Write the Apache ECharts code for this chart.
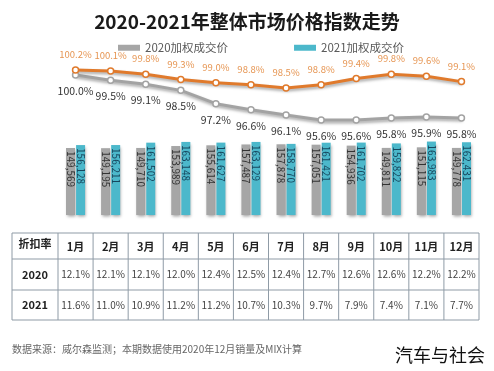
<!DOCTYPE html>
<html><head><meta charset="utf-8">
<script src="https://cdn.jsdelivr.net/npm/echarts@6/dist/echarts.min.js"></script>
<style>html,body{margin:0;padding:0;background:#fff}#c{width:494px;height:371px}</style>
</head><body><div id="c"></div>
<script>
// ---- data ----
var months = ['1月','2月','3月','4月','5月','6月','7月','8月','9月','10月','11月','12月'];
var price2020 = [149569,149195,149710,153989,155614,157487,157878,157051,154936,149811,151115,149778];
var price2021 = [156128,156211,161502,163148,161627,163129,158770,161421,161702,159822,163983,162431];
var index2020 = [100.0,99.5,99.1,98.5,97.2,96.6,96.1,95.6,95.6,95.8,95.9,95.8];
var index2021 = [100.2,100.1,99.8,99.3,99.0,98.8,98.5,98.8,99.4,99.8,99.6,99.1];
var discount2020 = ['12.1%','12.1%','12.1%','12.0%','12.4%','12.5%','12.4%','12.7%','12.6%','12.6%','12.2%','12.2%'];
var discount2021 = ['11.6%','11.0%','10.9%','11.2%','11.2%','10.7%','10.3%','9.7%','7.9%','7.4%','7.1%','7.7%'];
var rowHeaders = ['折扣率','2020','2021'];
var seriesNames = ['2020加权成交价','2021加权成交价'];

var FONT = '"Noto Sans CJK SC", "Noto Sans", sans-serif';
var chart = echarts.init(document.getElementById('c'), null, {renderer:'canvas'});

// ---- table built with graphic ----
var tL = 12, tC = 58, tR = 479, rows = [233, 259, 290, 320];
var colW = (tR - tC) / 12;
var g = [];
var lineStyle = {stroke:'#8f9ba6', lineWidth:1};
rows.forEach(function(y){ g.push({type:'line', shape:{x1:tL,y1:y,x2:tR,y2:y}, style:lineStyle, z:10}); });
g.push({type:'line', shape:{x1:tL,y1:rows[0],x2:tL,y2:rows[3]}, style:lineStyle, z:10});
for (var i=0;i<=12;i++){
  var x = tC + colW*i;
  g.push({type:'line', shape:{x1:x,y1:rows[0],x2:x,y2:rows[3]}, style:lineStyle, z:10});
}
var rowData = [months, discount2020, discount2021];
for (var r=0;r<3;r++){
  var yc = (rows[r]+rows[r+1])/2;
  g.push({type:'text', x:(tL+tC)/2, y: r===0 ? yc-2 : yc, style:{text:rowHeaders[r], align:'center', verticalAlign:'middle', font:'bold 11px '+FONT, fill:'#222'}, z:11});
  for (var c=0;c<12;c++){
    g.push({type:'text', x:tC+colW*(c+0.5), y: r===0 ? yc+1 : yc, style:{text:rowData[r][c], align:'center', verticalAlign:'middle',
      font:(r===0?'bold 11px ':'10px ')+FONT, fill: r===0?'#222':'#444'}, z:11});
  }
}
g.push({type:'text', left:12, top:344, style:{text:'数据来源：威尔森监测；本期数据使用2020年12月销量及MIX计算', font:'10px '+FONT, fill:'#666'}});
g.push({type:'text', left:395, top:346, style:{text:'汽车与社会', font:'18px '+FONT, fill:'#111'}});

var shadow = {shadowColor:'rgba(0,0,0,0.35)', shadowBlur:3, shadowOffsetX:1, shadowOffsetY:2};

chart.setOption({
  animation:false,
  backgroundColor:'#fff',
  title:{text:'2020-2021年整体市场价格指数走势', left:'center', top:7,
    textStyle:{fontFamily:FONT, fontSize:19, fontWeight:'bold', color:'#1a1a1a'}},
  legend:{data:seriesNames, left:113, top:37, icon:'rect', itemWidth:22, itemHeight:6, itemGap:66,
    textStyle:{fontFamily:FONT, fontSize:11.5, color:'#595959'}},
  grid:[
    {left:tC, right:494-tR, top:60, height:100},
    {left:tC, right:494-tR, top:125.4, bottom:138}
  ],
  xAxis:[
    {type:'category', gridIndex:0, data:months, show:false},
    {type:'category', gridIndex:1, data:months, show:false}
  ],
  yAxis:[
    {type:'value', gridIndex:0, min:91.69, max:101.47, show:false},
    {type:'value', gridIndex:0, min:91.70, max:101.14, show:false},
    {type:'value', gridIndex:1, min:-40000, max:200000, show:false}
  ],
  series:[
    {name:seriesNames[0], type:'bar', xAxisIndex:1, yAxisIndex:2, data:price2020, barWidth:9, barGap:'12%',
      itemStyle:Object.assign({color:'#a6a6a6'}, shadow),
      label:{show:true, position:'insideTop', rotate:-90, align:'left', verticalAlign:'middle', distance:3,
        fontFamily:FONT, fontSize:10, color:'#333', formatter:function(p){return p.value.toLocaleString('en-US');}}},
    {name:seriesNames[1], type:'bar', xAxisIndex:1, yAxisIndex:2, data:price2021, barWidth:9,
      itemStyle:Object.assign({color:'#4cb8cb'}, shadow),
      label:{show:true, position:'insideTop', rotate:-90, align:'left', verticalAlign:'middle', distance:3,
        fontFamily:FONT, fontSize:10, color:'#17475e', formatter:function(p){return p.value.toLocaleString('en-US');}}},
    {name:'2020指数', type:'line', xAxisIndex:0, yAxisIndex:0, data:index2020, z:5,
      symbol:'circle', symbolSize:6, lineStyle:Object.assign({color:'#a3a3a3', width:3}, shadow),
      itemStyle:{color:'#fff', borderColor:'#a3a3a3', borderWidth:1.5},
      label:{show:true, position:'bottom', distance:7, fontFamily:FONT, fontSize:10.5, color:'#333',
        formatter:function(p){return p.value.toFixed(1)+'%';}}},
    {name:'2021指数', type:'line', xAxisIndex:0, yAxisIndex:1, data:index2021, z:5,
      symbol:'circle', symbolSize:6, lineStyle:Object.assign({color:'#e07a2c', width:3}, shadow),
      itemStyle:{color:'#fff', borderColor:'#e07a2c', borderWidth:1.5},
      label:{show:true, position:'top', distance:7, fontFamily:FONT, fontSize:9.5, color:'#e69552',
        formatter:function(p){return p.value.toFixed(1)+'%';}}}
  ],
  graphic:g
});
</script></body></html>
